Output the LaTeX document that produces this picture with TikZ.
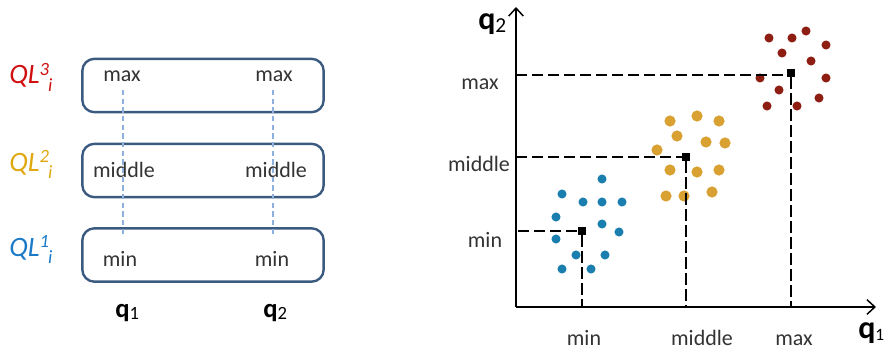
\documentclass[tikz,border=0pt]{standalone}
\usepackage{fontspec}
\setmainfont{Carlito}
\usetikzlibrary{arrows.meta}
\definecolor{boxc}{HTML}{3B5A80}
\definecolor{ldash}{HTML}{8EB0DC}
\definecolor{txt}{HTML}{333333}
\definecolor{qlred}{HTML}{D01010}
\definecolor{qlgold}{HTML}{E0A810}
\definecolor{qlblue}{HTML}{1A7AC8}
\definecolor{dotblue}{HTML}{1A7EAE}
\definecolor{dotgold}{HTML}{D9A032}
\definecolor{dotred}{HTML}{8E1E12}
\newcommand{\qlabel}[1]{\textit{QL}\rlap{\raisebox{0.62ex}{\fontsize{14}{14}\selectfont\textit{#1}}}\kern0.3em\raisebox{-0.55ex}{\fontsize{14}{14}\selectfont\textit{i}}}
\newcommand{\qvar}[3]{{\fontsize{#3}{#3}\selectfont\bfseries q}\raisebox{-0.45ex}{\fontsize{#2}{#2}\selectfont #1}}
\tikzset{
  qbox/.style={draw=boxc, line width=1.8pt, rounded corners=9pt, minimum width=181pt, minimum height=40pt, inner sep=0pt},
  lab/.style={text=txt, font=\fontsize{16.5}{18}\selectfont, inner sep=0pt, anchor=base},
  qllab/.style={font=\fontsize{21}{24}\selectfont, inner sep=0pt, anchor=base west},
  qlab/.style={text=black, inner sep=0pt, anchor=base west},
  ldashed/.style={draw=ldash, line width=0.9pt, dash pattern=on 4pt off 2.5pt},
  axis/.style={draw=black, line width=1.2pt, -{Straight Barb[length=6pt,width=11pt,line width=1.1pt]}},
  guide/.style={draw=black, line width=1pt, dash pattern=on 8.5pt off 3.5pt},
  sq/.style={fill=black, minimum size=6.2pt, inner sep=0pt, draw=none}
}
\begin{document}
\begin{tikzpicture}[x=0.75pt,y=-0.75pt]
\useasboundingbox (0,0) rectangle (887,349);
% ---------------- left part ----------------
\node[qbox] (b3) at (203,85.5) {};
\node[qbox] (b2) at (203,170.5) {};
\node[qbox] (b1) at (203,255) {};

\node[qllab, text=qlred] (ql3) at (9,84) {\qlabel{3}};
\node[qllab, text=qlgold] (ql2) at (9,171) {\qlabel{2}};
\node[qllab, text=qlblue] (ql1) at (9,256) {\qlabel{1}};

\node[lab] (max1) at (122,82) {max};
\node[lab] (max2) at (274,82) {max};
\node[lab] (mid1) at (124,177) {middle};
\node[lab] (mid2) at (276,177) {middle};
\node[lab] (min1) at (120,266) {min};
\node[lab] (min2) at (272,266) {min};

\coordinate (d1t) at (123,90);
\coordinate (d1b) at (123,237);
\coordinate (d2t) at (273,90);
\coordinate (d2b) at (273,237);
\draw[ldashed] (d1t) -- (d1b);
\draw[ldashed] (d2t) -- (d2b);

\node[qlab] (q1l) at (115,317) {\qvar{1}{14}{20}};
\node[qlab] (q2l) at (263,317) {\qvar{2}{14}{20}};

% ---------------- right part ----------------
\coordinate (O) at (516,307);
\coordinate (ytop) at (516,7);
\coordinate (xend) at (876,307);
\draw[axis] (O) -- (ytop);
\draw[axis] (O) -- (xend);

\node[qlab] (q2r) at (478,30) {\qvar{2}{16}{24}};
\node[qlab] (q1r) at (858,338) {\qvar{1}{13}{24}};

% dots
\foreach \p in {(602,179),(562,194),(583,202),(602,202),(622,202),(556,217),(602,224),(619,232),(556,239),(576,255),(605,255),(562,269),(591,269)}
  \fill[dotblue] \p circle[radius=3.4pt];
\foreach \p in {(670,121),(697,116),(719,121),(677,136),(706,142),(725,143),(657,150),(670,170),(697,172),(719,170),(666,196),(684,196),(712,192)}
  \fill[dotgold] \p circle[radius=4.2pt];
\foreach \p in {(769,38),(792,38),(806,31),(826,45),(782,53),(811,61),(760,78),(826,78),(779,90),(819,98),(767,106),(797,106)}
  \fill[dotred] \p circle[radius=3.4pt];

% squares
\node[sq] (smin) at (582,231) {};
\node[sq] (smid) at (686,157) {};
\node[sq] (smax) at (791,73) {};

\coordinate (ymin) at (518,231);
\coordinate (ymid) at (516,157);
\coordinate (ymax) at (516,75);
\coordinate (xmin) at (582,307);
\coordinate (xmid) at (686,307);
\coordinate (xmax) at (791,307);

\draw[guide] (ymin) -- (smin.west);
\draw[guide] (ymid) -- (smid.west);
\draw[guide] (ymax) -- (smax.west |- ymax);
\draw[guide] (smin.south) -- (xmin);
\draw[guide] (smid.south) -- (xmid);
\draw[guide] (smax.south) -- (xmax);

\node[lab] (ymaxl) at (480,90) {max};
\node[lab] (ymidl) at (479,171) {middle};
\node[lab] (yminl) at (485,247) {min};
\node[lab] (xminl) at (584,345) {min};
\node[lab] (xmidl) at (702,345) {middle};
\node[lab] (xmaxl) at (794,345) {max};
\end{tikzpicture}
\end{document}
